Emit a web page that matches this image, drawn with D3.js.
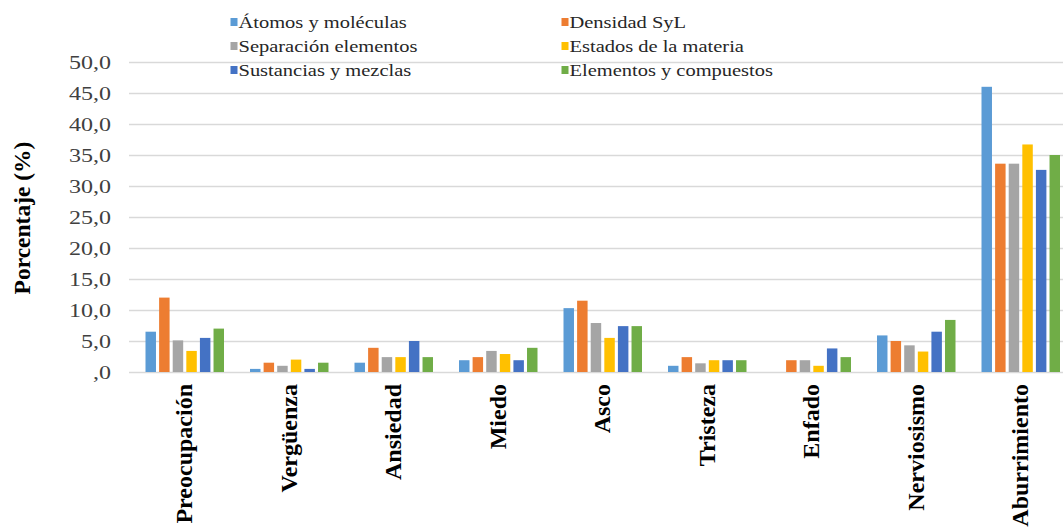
<!DOCTYPE html>
<html><head><meta charset="utf-8">
<script src="https://cdn.jsdelivr.net/npm/d3@7/dist/d3.min.js"></script>
<style>body{margin:0;background:#fff}svg{display:block}</style>
</head><body>
<svg id="c" width="1063" height="527"></svg>
<script>
const categories = ["Preocupación","Vergüenza","Ansiedad","Miedo","Asco","Tristeza","Enfado","Nerviosismo","Aburrimiento"];
const seriesNames = ["Átomos y moléculas","Densidad SyL","Separación elementos","Estados de la materia","Sustancias y mezclas","Elementos y compuestos"];
const atomos      = [6.5, 0.5, 1.5, 1.9, 10.3, 1.0, 0.0, 5.9, 46.0];
const densidad    = [12.0, 1.5, 3.9, 2.4, 11.5, 2.4, 1.9, 5.0, 33.6];
const separacion  = [5.1, 1.0, 2.4, 3.4, 7.9, 1.4, 1.9, 4.3, 33.6];
const estados     = [3.4, 2.0, 2.4, 2.9, 5.5, 1.9, 1.0, 3.3, 36.7];
const sustancias  = [5.5, 0.5, 5.0, 1.9, 7.4, 1.9, 3.8, 6.5, 32.6];
const elementos   = [7.0, 1.5, 2.4, 3.9, 7.4, 1.9, 2.4, 8.4, 35.0];
const yTicks = [0,5,10,15,20,25,30,35,40,45,50];
const colors = ["#5B9BD5","#ED7D31","#A5A5A5","#FFC000","#4472C4","#70AD47"];
const seriesValues = [atomos, densidad, separacion, estados, sustancias, elementos];

const svg = d3.select("#c");
const serif = "'Liberation Serif','Times New Roman',serif";

const y = d3.scaleLinear().domain([0,50]).range([372,62]);
const x0 = d3.scaleBand().domain(categories).range([132.5, 1073]).padding(0);
const x1 = d3.scaleBand().domain(seriesNames).range([-39.25, 39.25]).paddingInner(0.23).paddingOuter(0);
const color = d3.scaleOrdinal().domain(seriesNames).range(colors);

// gridlines
const fmt = d => d === 0 ? ",0" : d.toFixed(1).replace(".", ",");
const yAxis = d3.axisLeft(y).tickValues(yTicks).tickSize(-(1063-129)).tickFormat(fmt).tickPadding(0);
const ga = svg.append("g").attr("transform","translate(129,0)").call(yAxis);
ga.select(".domain").remove();
ga.selectAll(".tick line").attr("stroke","#d9d9d9").attr("stroke-width",1.3);
ga.selectAll(".tick text").each(function(){
  const t = d3.select(this);
  t.attr("x",null).attr("dy",null);
  t.attr("transform","translate(-18,0) scale(1.3,1)").attr("dy","0.35em")
   .attr("text-anchor","end").attr("font-family",serif).attr("font-size",18.5).attr("fill","#404040");
});

// bars
const rows = [];
categories.forEach((c,i)=>seriesNames.forEach((s,j)=>rows.push({c,s,v:seriesValues[j][i]})));
svg.append("g").selectAll("rect").data(rows).join("rect")
  .attr("x", d => x0(d.c) + x0.bandwidth()/2 + x1(d.s))
  .attr("width", x1.bandwidth())
  .attr("y", d => y(d.v))
  .attr("height", d => y(0) - y(d.v))
  .attr("fill", d => color(d.s));

// category labels
const gx = svg.append("g");
gx.selectAll("text").data(categories).join("text")
  .attr("transform", d => `translate(${x0(d) + x0.bandwidth()/2 - 1},384) rotate(-90)`)
  .attr("dy","0.35em")
  .attr("text-anchor","end")
  .attr("font-family",serif).attr("font-weight","bold").attr("font-size",24)
  .attr("fill","#000")
  .text(d=>d);

// y title
svg.append("text")
  .attr("transform","translate(30,218) rotate(-90)")
  .attr("text-anchor","middle")
  .attr("font-family",serif).attr("font-weight","bold").attr("font-size",23.5)
  .attr("fill","#000")
  .text("Porcentaje (%)");

// legend
const legX = [230.5, 561.5];
const legY = [22, 46, 70];
const lg = svg.append("g").selectAll("g").data(seriesNames).join("g")
  .attr("transform",(d,i)=>`translate(${legX[i%2]},${legY[Math.floor(i/2)]})`);
lg.append("rect").attr("x",0).attr("y",-4).attr("width",7).attr("height",8).attr("fill",d=>color(d));
lg.append("text").attr("transform","translate(8,0) scale(1.28,1)").attr("dy","0.35em")
  .attr("font-family",serif).attr("font-size",16).attr("fill","#262626").text(d=>d);
</script>
</body></html>
